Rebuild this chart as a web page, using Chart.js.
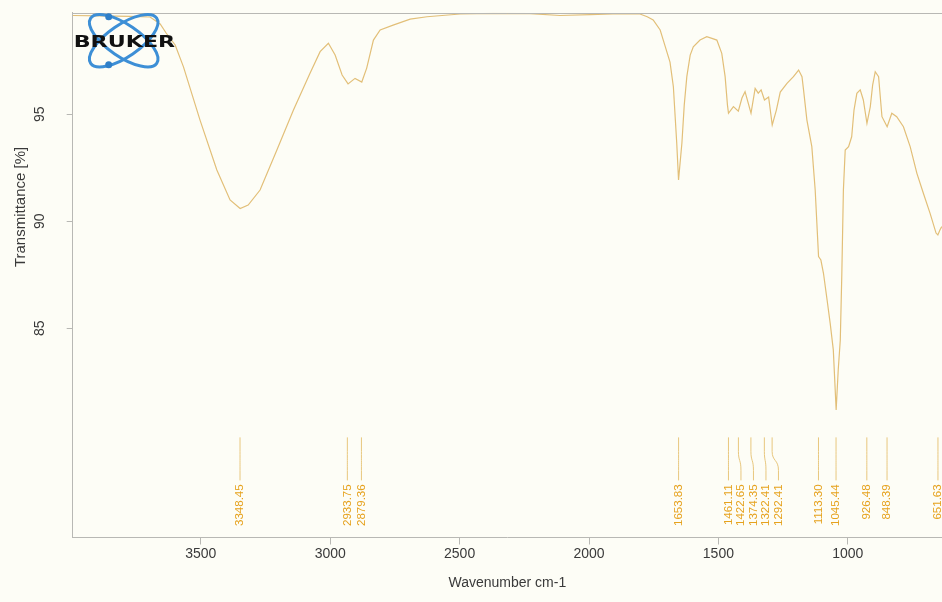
<!DOCTYPE html>
<html>
<head>
<meta charset="utf-8">
<script src="https://cdn.jsdelivr.net/npm/chart.js@4.4.1/dist/chart.umd.min.js"></script>
<style>
  html, body { margin: 0; padding: 0; background: #fdfdf6; }
  #wrap { width: 942px; height: 602px; }
</style>
</head>
<body>
<div id="wrap"><canvas id="chart" width="942" height="602"></canvas></div>
<script>
// IR spectrum (wavenumber cm-1 / transmittance %)
const wavenumbers = [
  3995, 3889, 3773, 3696, 3657, 3634, 3599, 3567, 3503, 3438, 3387, 3348, 3317, 3271,
  3206, 3142, 3078, 3039, 3007, 2981, 2954, 2931, 2904, 2878, 2859, 2833, 2807, 2757,
  2691, 2626, 2498, 2371, 2228, 2112, 1996, 1880, 1803, 1775, 1752, 1725, 1713, 1687,
  1674, 1661, 1654, 1641, 1632, 1622, 1609, 1597, 1571, 1545, 1525, 1506, 1487, 1474,
  1465, 1461, 1442, 1423, 1409, 1397, 1374, 1358, 1346, 1335, 1322, 1306, 1292, 1276,
  1261, 1235, 1210, 1190, 1177, 1171, 1158, 1139, 1126, 1113, 1104, 1094, 1080, 1068,
  1056, 1045, 1037, 1029, 1023, 1017, 1010, 997, 985, 976, 965, 952, 940, 926,
  913, 904, 894, 881, 868, 848, 830, 811, 785, 759, 733, 708, 682, 659,
  652, 644, 637
];
const transmittance = [
  99.62, 99.60, 99.58, 99.55, 99.22, 98.80, 98.24, 97.22, 94.73, 92.40, 91.00, 90.60, 90.76, 91.46,
  93.33, 95.20, 96.92, 97.93, 98.32, 97.77, 96.84, 96.42, 96.68, 96.51, 97.16, 98.47, 98.94, 99.17,
  99.45, 99.56, 99.69, 99.72, 99.71, 99.62, 99.66, 99.71, 99.69, 99.56, 99.41, 98.94, 98.47, 97.44,
  96.29, 93.66, 91.93, 93.66, 95.43, 96.76, 97.77, 98.16, 98.47, 98.63, 98.55, 98.47, 97.85, 96.76,
  95.43, 95.05, 95.36, 95.15, 95.76, 96.06, 95.05, 96.21, 95.99, 96.14, 95.67, 95.81, 94.50, 95.20,
  96.04, 96.45, 96.76, 97.07, 96.76, 96.14, 94.73, 93.49, 91.46, 88.35, 88.19, 87.57, 86.32, 85.23,
  83.99, 81.18, 83.05, 84.45, 87.58, 91.46, 93.33, 93.49, 93.95, 95.20, 95.98, 96.14, 95.67, 94.58,
  95.36, 96.37, 96.99, 96.76, 94.89, 94.42, 95.05, 94.89, 94.42, 93.49, 92.24, 91.31, 90.37, 89.45,
  89.36, 89.59, 89.75
];

// picked peaks
const peakWavenumbers = [
  3348.45, 2933.75, 2879.36, 1653.83, 1461.11, 1422.65, 1374.35,
  1322.41, 1292.41, 1113.30, 1045.44, 926.48, 848.39, 651.63
];

const xTickValues = [3500, 3000, 2500, 2000, 1500, 1000];
const yTickValues = [85, 90, 95];
const xRange = [636, 3995];
const yRange = [75.22, 99.75];

const curveColor = '#e2bf78';
const peakTextColor = '#e6a21e';
const peakLineColor = '#e8c77e';
const frameColor = '#b8b8b4';
const textColor = '#3a3a3a';

const opusExtras = {
  id: 'opusExtras',
  beforeDraw(chart) {
    const { ctx, width, height } = chart;
    ctx.save();
    ctx.fillStyle = '#fdfdf6';
    ctx.fillRect(0, 0, width, height);
    ctx.restore();
  },
  afterDraw(chart) {
    const { ctx, chartArea: a, scales: { x, y } } = chart;
    ctx.save();

    // top frame line
    ctx.strokeStyle = frameColor;
    ctx.lineWidth = 1;
    ctx.beginPath();
    ctx.moveTo(a.left, Math.round(a.top) + 0.5);
    ctx.lineTo(a.right, Math.round(a.top) + 0.5);
    ctx.stroke();

    // y tick labels, written upwards
    ctx.fillStyle = textColor;
    ctx.font = '14px "Liberation Sans", Arial, sans-serif';
    ctx.textAlign = 'center';
    ctx.textBaseline = 'middle';
    yTickValues.forEach(v => {
      ctx.save();
      ctx.translate(a.left - 33, y.getPixelForValue(v));
      ctx.rotate(-Math.PI / 2);
      ctx.fillText(String(v), 0, 0);
      ctx.restore();
    });

    // y axis title (sits above the middle, as in OPUS)
    ctx.save();
    ctx.translate(a.left - 52, y.getPixelForValue(90.67));
    ctx.rotate(-Math.PI / 2);
    ctx.font = '15px "Liberation Sans", Arial, sans-serif';
    ctx.fillText('Transmittance [%]', 0, 0);
    ctx.restore();

    // peak markers
    const yTop = y.getPixelForValue(79.9);
    const gap = 12.5;
    let prev = -Infinity;
    ctx.lineWidth = 1;
    ctx.font = '11.5px "Liberation Sans", Arial, sans-serif';
    peakWavenumbers.forEach(wn => {
      const p = x.getPixelForValue(wn);
      const q = Math.max(p, prev + gap);
      prev = q;
      ctx.strokeStyle = peakLineColor;
      ctx.beginPath();
      ctx.moveTo(p, yTop);
      ctx.lineTo(p, yTop + 14);
      ctx.bezierCurveTo(p, yTop + 24, q, yTop + 22, q, yTop + 33);
      ctx.lineTo(q, yTop + 43);
      ctx.stroke();
      ctx.save();
      ctx.translate(q, yTop + 47);
      ctx.rotate(-Math.PI / 2);
      ctx.fillStyle = peakTextColor;
      ctx.textAlign = 'right';
      ctx.textBaseline = 'middle';
      ctx.fillText(wn.toFixed(2), 0, 0);
      ctx.restore();
    });

    // Bruker logo
    const lx = a.left, ly = a.top;
    ctx.strokeStyle = '#3d8fd6';
    ctx.lineWidth = 3;
    [0.6, -0.6].forEach(rot => {
      ctx.beginPath();
      ctx.ellipse(lx + 51, ly + 28, 40, 16, rot, 0, Math.PI * 2);
      ctx.stroke();
    });
    ctx.fillStyle = '#2f7fc8';
    [[lx + 36, ly + 4], [lx + 36, ly + 52]].forEach(([cx, cy]) => {
      ctx.beginPath();
      ctx.arc(cx, cy, 3.5, 0, Math.PI * 2);
      ctx.fill();
    });
    ctx.save();
    ctx.translate(lx + 1, ly + 34);
    ctx.scale(1.48, 1);
    ctx.fillStyle = '#111';
    ctx.font = 'bold 15px "DejaVu Sans", sans-serif';
    ctx.textAlign = 'left';
    ctx.textBaseline = 'alphabetic';
    ctx.fillText('BRUKER', 0, 0);
    ctx.restore();

    ctx.restore();
  }
};

new Chart(document.getElementById('chart'), {
  type: 'line',
  data: {
    datasets: [{
      data: wavenumbers.map((wn, i) => ({ x: wn, y: transmittance[i] })),
      borderColor: curveColor,
      borderWidth: 1.2,
      pointRadius: 0,
      tension: 0,
      fill: false
    }]
  },
  options: {
    responsive: false,
    animation: false,
    layout: { padding: { top: 12.7, left: 0, right: 0, bottom: 0 } },
    scales: {
      x: {
        type: 'linear',
        reverse: true,
        min: xRange[0],
        max: xRange[1],
        afterBuildTicks: s => { s.ticks = xTickValues.map(v => ({ value: v })); },
        afterFit: s => { s.height = 64.5; },
        grid: { drawOnChartArea: false, drawTicks: true, tickLength: 7, color: frameColor },
        border: { display: true, color: frameColor },
        ticks: {
          color: textColor,
          font: { size: 14, family: '"Liberation Sans", Arial, sans-serif' },
          padding: 1,
          maxRotation: 0,
          callback: v => String(v)
        },
        title: {
          display: true,
          text: 'Wavenumber cm-1',
          color: textColor,
          font: { size: 14, family: '"Liberation Sans", Arial, sans-serif' },
          padding: { top: 2, bottom: 10 }
        }
      },
      y: {
        type: 'linear',
        min: yRange[0],
        max: yRange[1],
        afterBuildTicks: s => { s.ticks = yTickValues.map(v => ({ value: v })); },
        afterFit: s => { s.width = 72.7; },
        grid: { drawOnChartArea: false, drawTicks: true, tickLength: 6, color: frameColor },
        border: { display: true, color: frameColor },
        ticks: { display: false }
      }
    },
    plugins: {
      legend: { display: false },
      tooltip: { enabled: false }
    }
  },
  plugins: [opusExtras]
});
</script>
</body>
</html>
